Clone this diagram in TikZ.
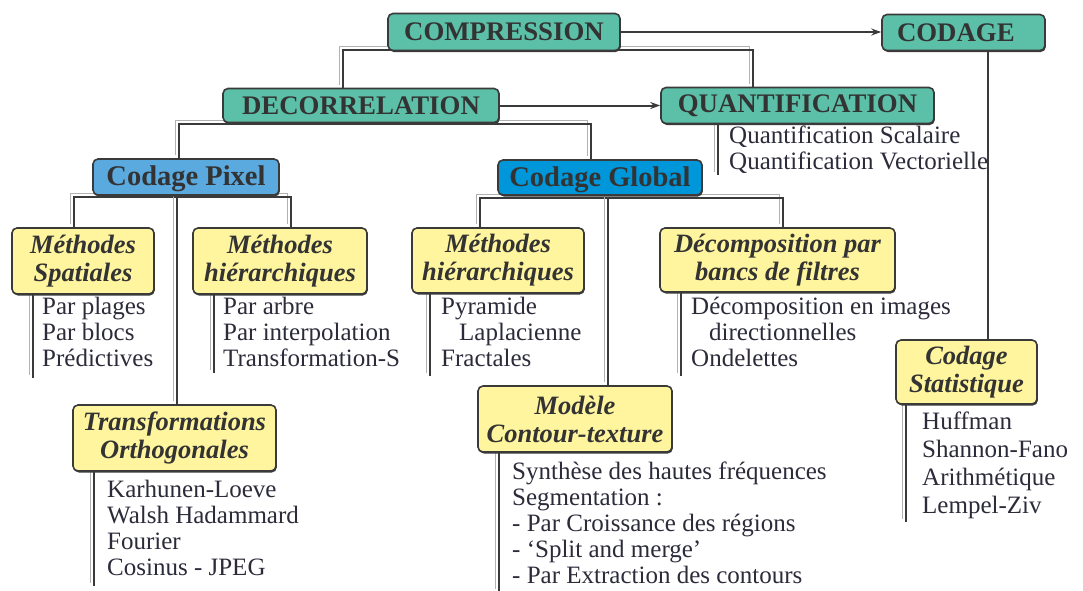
\documentclass[tikz,border=0pt]{standalone}
\usepackage{fontspec}
\setmainfont{Liberation Serif}
\usetikzlibrary{arrows.meta,shadows,calc}
\definecolor{tealc}{HTML}{5CC0A8}
\definecolor{pixblue}{HTML}{5AAAE0}
\definecolor{globblue}{HTML}{0096DA}
\definecolor{yel}{HTML}{FFF59E}
\definecolor{edge}{HTML}{3A3A3A}
\definecolor{txt}{HTML}{333333}
\definecolor{listtxt}{HTML}{2B2B3A}
\pgfdeclarelayer{bg}
\pgfsetlayers{bg,main}
\tikzset{
  box/.style={draw=edge, line width=1.6pt, rounded corners=5pt, text=txt, inner sep=0pt,
    drop shadow={shadow xshift=0.8pt, shadow yshift=-1.5pt, fill=edge, opacity=1}},
  tealbox/.style={box, fill=tealc, font=\fontsize{26.8}{28}\selectfont\bfseries},
  pixbox/.style={box, fill=pixblue, font=\fontsize{28.5}{30}\selectfont\bfseries},
  globbox/.style={box, fill=globblue, font=\fontsize{28.5}{30}\selectfont\bfseries},
  yelbox/.style={box, fill=yel, align=center, font=\fontsize{26.5}{28}\selectfont\bfseries\itshape},
  item/.style={anchor=base west, inner sep=0pt, text=listtxt, font=\fontsize{25}{26}\selectfont},
  lightln/.style={draw=gray!60, line width=1.1pt},
  darkln/.style={draw=edge, line width=2.5pt},
  solidln/.style={draw=edge, line width=2.6pt},
  arrowln/.style={draw=edge, line width=2pt, -{Stealth[length=10pt,width=7pt]}},
}
% double connectors: light line offset up-left, dark line on the path
\newcommand\dbltwo[2]{\draw[lightln] ($#1+(-3.2,-3.2)$) -- ($#2+(-3.2,-3.2)$); \draw[darkln] #1 -- #2;}
\newcommand\dblfour[4]{\draw[lightln] ($#1+(-3.2,-3.2)$) -- ($#2+(-3.2,-3.2)$) -- ($#3+(-3.2,-3.2)$) -- ($#4+(-3.2,-3.2)$);
  \draw[darkln] #1 -- #2 -- #3 -- #4;}
\begin{document}
\begin{tikzpicture}[x=1pt,y=-1pt]
\useasboundingbox (0,0) rectangle (1083,590);
% ---- main boxes
\node[tealbox, minimum width=232, minimum height=37] (compr) at (504,32) {COMPRESSION};
\node[tealbox, minimum width=163, minimum height=36, text width=133, align=left] (codage) at (963.5,32.5) {CODAGE};
\node[tealbox, minimum width=276, minimum height=34] (decor) at (361,105.5) {DECORRELATION};
\node[tealbox, minimum width=273, minimum height=36] (quant) at (797.5,105.5) {QUANTIFICATION};
\node[pixbox, minimum width=186, minimum height=36, text depth=2pt] (pixel) at (186,177) {Codage Pixel};
\node[globbox, minimum width=204, minimum height=35, text depth=2pt] (global) at (600,177.5) {Codage Global};
% ---- yellow boxes
\node[yelbox, minimum width=142, minimum height=66] (spat) at (83,261) {Méthodes\\Spatiales};
\node[yelbox, minimum width=174, minimum height=66] (phier) at (280,261) {Méthodes\\hiérarchiques};
\node[yelbox, minimum width=172, minimum height=65] (ghier) at (498,260.5) {Méthodes\\hiérarchiques};
\node[yelbox, minimum width=235, minimum height=64] (decomp) at (777.5,260) {Décomposition par\\bancs de filtres};
\node[yelbox, minimum width=203, minimum height=66] (transf) at (174.5,438) {Transformations\\Orthogonales};
\node[yelbox, minimum width=194, minimum height=66] (modele) at (575,419) {Modèle\\Contour-texture};
\node[yelbox, minimum width=141, minimum height=64] (stat) at (966.5,372) {Codage\\Statistique};
% ---- list texts
\node[item] (q1) at (729,143) {Quantification Scalaire};
\node[item] (q2) at (729,169) {Quantification Vectorielle};
\node[item] (s1) at (42,314) {Par plages};
\node[item] (s2) at (42,340) {Par blocs};
\node[item] (s3) at (42,366) {Prédictives};
\node[item] (h1) at (223,314) {Par arbre};
\node[item] (h2) at (223,340) {Par interpolation};
\node[item] (h3) at (223,366) {Transformation-S};
\node[item] (g1) at (441,314) {Pyramide};
\node[item] (g2) at (459,340) {Laplacienne};
\node[item] (g3) at (441,366) {Fractales};
\node[item] (d1) at (691,314) {Décomposition en images};
\node[item] (d2) at (709,340) {directionnelles};
\node[item] (d3) at (691,366) {Ondelettes};
\node[item] (t1) at (107,497) {Karhunen-Loeve};
\node[item] (t2) at (107,523) {Walsh Hadammard};
\node[item] (t3) at (107,549) {Fourier};
\node[item] (t4) at (107,575) {Cosinus - JPEG};
\node[item] (m1) at (512,479) {Synthèse des hautes fréquences};
\node[item] (m2) at (512,505) {Segmentation :};
\node[item] (m3) at (512,531) {- Par Croissance des régions};
\node[item] (m4) at (512,557) {- ‘Split and merge’};
\node[item] (m5) at (512,583) {- Par Extraction des contours};
\node[item] (c1) at (922,429) {Huffman};
\node[item] (c2) at (922,457) {Shannon-Fano};
\node[item] (c3) at (922,485) {Arithmétique};
\node[item] (c4) at (922,513) {Lempel-Ziv};
% ---- coordinates for connectors
\coordinate (cA) at (343,50);  \coordinate (cB) at (753,50);
\coordinate (dA) at (179,124); \coordinate (dB) at (591,124);
\coordinate (pA) at (74,197);  \coordinate (pB) at (291,197); \coordinate (pC) at (177,197);
\coordinate (gA) at (480,198); \coordinate (gB) at (783,198); \coordinate (gC) at (608,198);
\coordinate (qE) at (718,175);
\coordinate (sE) at (33,378);
\coordinate (hE) at (214,373);
\coordinate (ghE) at (430,376);
\coordinate (dE) at (681,376);
\coordinate (tE) at (94,586);
\coordinate (mE) at (499,592);
\coordinate (kE) at (906,522);
\coordinate (kA) at (988,0);
\begin{pgfonlayer}{bg}
\dblfour{(cA |- decor.north)}{(cA)}{(cB)}{(cB |- quant.north)}
\dblfour{(dA |- pixel.north)}{(dA)}{(dB)}{(dB |- global.north)}
\dblfour{(pA |- spat.north)}{(pA)}{(pB)}{(pB |- phier.north)}
\dbltwo{(pC)}{(pC |- transf.north)}
\dblfour{(gA |- ghier.north)}{(gA)}{(gB)}{(gB |- decomp.north)}
\dbltwo{(gC)}{(gC |- modele.north)}
\dbltwo{(qE |- quant.south)}{(qE)}
\dbltwo{(sE |- spat.south)}{(sE)}
\dbltwo{(hE |- phier.south)}{(hE)}
\dbltwo{(ghE |- ghier.south)}{(ghE)}
\dbltwo{(dE |- decomp.south)}{(dE)}
\dbltwo{(tE |- transf.south)}{(tE)}
\dbltwo{(mE |- modele.south)}{(mE)}
\dbltwo{(kE |- stat.south)}{(kE)}
\end{pgfonlayer}
\draw[solidln] (kA |- codage.south) -- (kA |- stat.north);
\draw[arrowln] (compr.east) -- (compr.east -| codage.west);
\draw[arrowln] (decor.east) -- (decor.east -| quant.west);
\end{tikzpicture}
\end{document}
